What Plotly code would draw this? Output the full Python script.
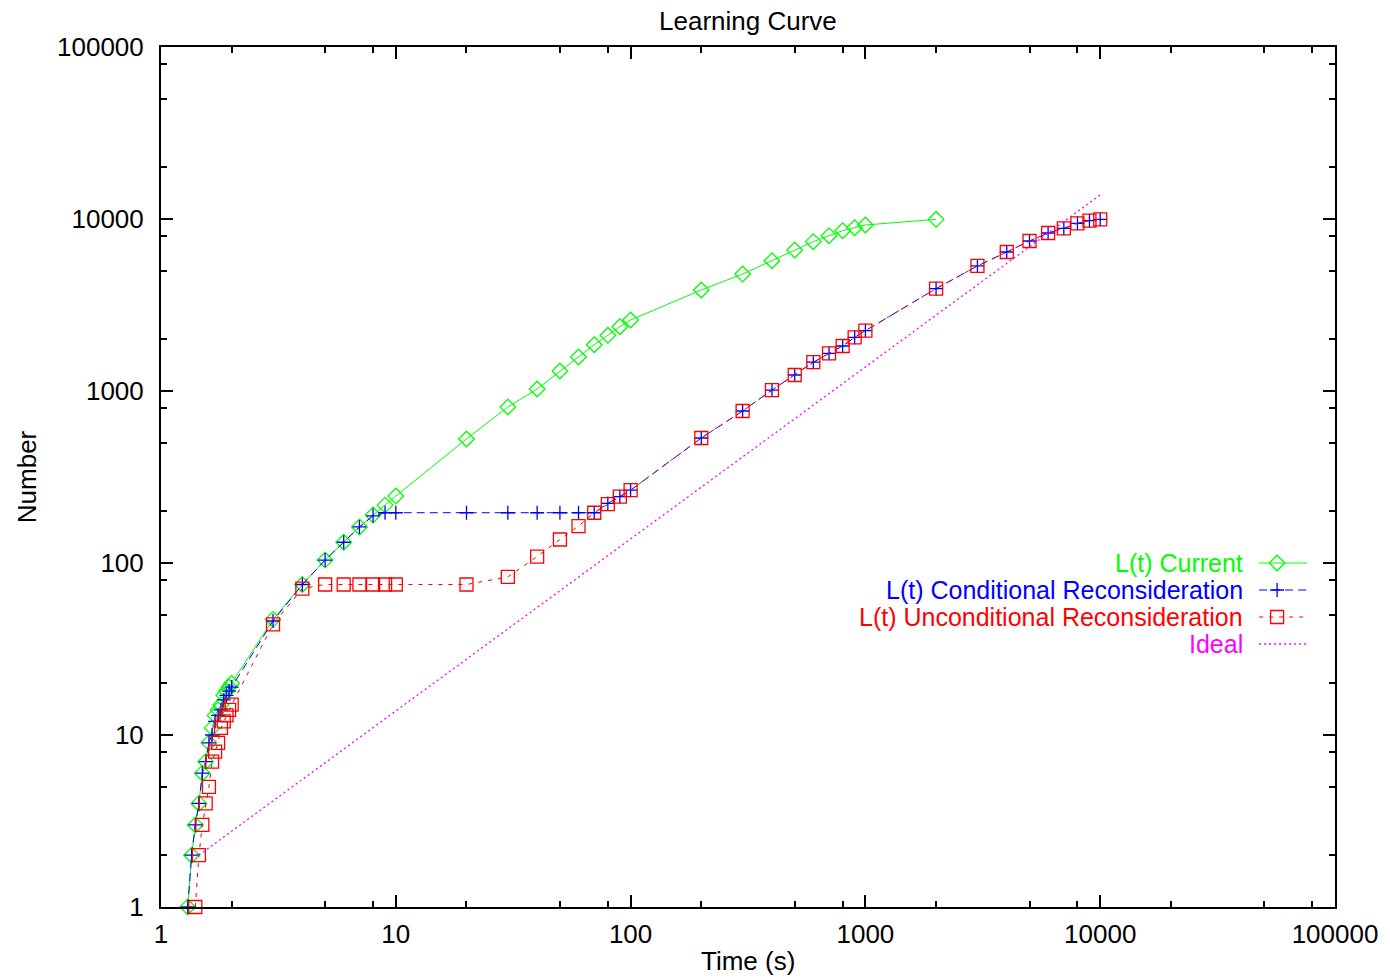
import plotly.graph_objects as go

# ---------------- data ----------------
current_x = [1.3, 1.35, 1.4, 1.45, 1.5, 1.55, 1.6, 1.65, 1.7, 1.75, 1.8, 1.85, 1.9, 1.95, 2.0,
             3, 4, 5, 6, 7, 8, 9, 10, 20, 30, 40, 50, 60, 70, 80, 90, 100,
             200, 300, 400, 500, 600, 700, 800, 900, 1000, 2000]
current_y = [1, 2, 3, 4, 6, 7, 9, 11, 13, 14, 15, 17, 18, 19, 20,
             47, 75, 104, 132, 162, 190, 217, 245, 526, 807, 1027, 1307, 1577, 1858, 2108, 2366, 2587,
             3866, 4786, 5718, 6606, 7383, 7996, 8552, 8900, 9227, 9955]

cond_x = [1.3, 1.35, 1.4, 1.45, 1.5, 1.55, 1.6, 1.65, 1.7, 1.75, 1.8, 1.85, 1.9, 1.95, 2.0,
          3, 4, 5, 6, 7, 8, 9, 10, 20, 30, 40, 50, 60, 70, 80, 90, 100,
          200, 300, 400, 500, 600, 700, 800, 900, 1000, 2000, 3000, 4000, 5000, 6000,
          7000, 8000, 9000, 10000]
cond_y = [1, 2, 3, 4, 6, 7, 9, 10, 12, 13, 14, 16, 17, 18, 19,
          46, 75, 104, 132, 162, 188, 196, 196, 196, 196, 196, 196, 196, 196, 222, 243, 265,
          533, 765, 1013, 1239, 1470, 1656, 1827, 2052, 2243, 3937, 5332, 6427, 7450, 8293,
          8830, 9440, 9773, 9955]

uncond_x = [1.4, 1.45, 1.5, 1.55, 1.6, 1.65, 1.7, 1.75, 1.8, 1.85, 1.9, 1.95, 2.0,
            3, 4, 5, 6, 7, 8, 9, 10, 20, 30, 40, 50, 60, 70, 80, 90, 100,
            200, 300, 400, 500, 600, 700, 800, 900, 1000, 2000, 3000, 4000, 5000, 6000,
            7000, 8000, 9000, 10000]
uncond_y = [1, 2, 3, 4, 5, 7, 8, 9, 11, 12, 13, 14, 15,
            44, 71, 75, 75, 75, 75, 75, 75, 75, 83, 109, 137, 164, 196, 220, 243, 265,
            533, 765, 1013, 1239, 1470, 1656, 1827, 2052, 2243, 3937, 5332, 6427, 7450, 8293,
            8830, 9440, 9773, 9955]

ideal_x = [1.45, 10000]
ideal_y = [2.0, 13800]

tick_vals = [1, 10, 100, 1000, 10000, 100000]
tick_text = ["1", "10", "100", "1000", "10000", "100000"]
minor_vals = [m * 10 ** e for e in range(5) for m in (2, 5, 8)]

series_names = ["L(t) Current", "L(t) Conditional Reconsideration",
                "L(t) Unconditional Reconsideration", "Ideal"]

# ---------------- styles ----------------
W, H = 1390, 979
L, R, T, B = 161, 1337, 47, 907
FONT = "Liberation Sans, Arial, Helvetica, sans-serif"
FS = 26
LEG_FS = 25

GREEN, BLUE, RED, MAG = "#00ff00", "#0000ff", "#ff0000", "#ff00ff"
styles = [
    dict(color=GREEN, dash="solid", symbol="diamond-open", size=12),
    dict(color=BLUE, dash="8px,5px", symbol="cross-thin-open", size=10),
    dict(color=RED, dash="4px,6px", symbol="square-open", size=13),
    dict(color=MAG, dash="2px,3px", symbol=None, size=0),
]

fig = go.Figure()
data = [(current_x, current_y), (cond_x, cond_y), (uncond_x, uncond_y), (ideal_x, ideal_y)]
for (xs, ys), st, nm in zip(data, styles, series_names):
    if st["symbol"]:
        fig.add_trace(go.Scatter(
            x=xs, y=ys, name=nm, mode="lines+markers",
            line=dict(color=st["color"], width=1, dash=st["dash"]),
            marker=dict(symbol=st["symbol"], size=st["size"], color=st["color"],
                        line=dict(color=st["color"], width=1.3)),
            showlegend=False, cliponaxis=False))
    else:
        fig.add_trace(go.Scatter(
            x=xs, y=ys, name=nm, mode="lines",
            line=dict(color=st["color"], width=1.3, dash=st["dash"]),
            showlegend=False))

# ---------------- legend (text left of sample, gnuplot style) ----------------
leg_rows = [563, 590, 617, 644]
text_right = 1245
samp_x0, samp_x1 = 1261, 1309
annotations = []
for row, st, nm in zip(leg_rows, styles, series_names):
    annotations.append(dict(
        text=nm, xref="paper", yref="paper",
        x=(text_right - L) / (R - L), y=(B - row) / (B - T),
        xanchor="right", yanchor="middle", showarrow=False,
        borderpad=0, borderwidth=0,
        font=dict(family=FONT, size=LEG_FS, color=st["color"])))
    fig.add_trace(go.Scatter(
        x=[samp_x0, samp_x1], y=[row, row], mode="lines",
        line=dict(color=st["color"], width=1 if st["symbol"] else 1.3, dash=st["dash"]),
        xaxis="x2", yaxis="y2", showlegend=False, hoverinfo="skip"))
    if st["symbol"]:
        fig.add_trace(go.Scatter(
            x=[(samp_x0 + samp_x1) / 2 - 6], y=[row], mode="markers",
            marker=dict(symbol=st["symbol"], size=st["size"], color=st["color"],
                        line=dict(color=st["color"], width=1.3)),
            xaxis="x2", yaxis="y2", showlegend=False, hoverinfo="skip"))

# title and axis titles
annotations.append(dict(text="Learning Curve", xref="paper", yref="paper",
                        x=0.5, y=(B - 21) / (B - T), xanchor="center", yanchor="middle",
                        showarrow=False, font=dict(family=FONT, size=FS, color="black")))
annotations.append(dict(text="Time (s)", xref="paper", yref="paper",
                        x=0.5, y=(B - 961) / (B - T), xanchor="center", yanchor="middle",
                        showarrow=False, font=dict(family=FONT, size=FS, color="black")))
annotations.append(dict(text="Number", xref="paper", yref="paper",
                        x=(27 - L) / (R - L), y=(B - 477) / (B - T), xanchor="center",
                        yanchor="middle", textangle=-90,
                        showarrow=False, font=dict(family=FONT, size=FS, color="black")))

axis_common = dict(
    type="log", showgrid=False, zeroline=False,
    showline=True, linecolor="black", linewidth=2, mirror="allticks",
    ticks="inside", ticklen=12, tickwidth=2, tickcolor="black",
    tickmode="array", tickvals=tick_vals, ticktext=tick_text,
    tickfont=dict(family=FONT, size=FS, color="black"),
    minor=dict(tickmode="array", tickvals=minor_vals, ticks="inside",
               ticklen=6, tickwidth=2, tickcolor="black", showgrid=False),
)

fig.update_layout(
    width=W, height=H,
    margin=dict(l=L, r=W - R, t=T, b=H - B, pad=0),
    paper_bgcolor="white", plot_bgcolor="white",
    showlegend=False,
    xaxis=dict(range=[0, 5], ticklabelstandoff=3, **axis_common),
    yaxis=dict(range=[0, 5], ticklabelstandoff=10, **axis_common),
    xaxis2=dict(overlaying="x", range=[L, R], visible=False, anchor="y2"),
    yaxis2=dict(overlaying="y", range=[B, T], visible=False, anchor="x2"),
    annotations=annotations,
)

fig.write_html("out.html")
